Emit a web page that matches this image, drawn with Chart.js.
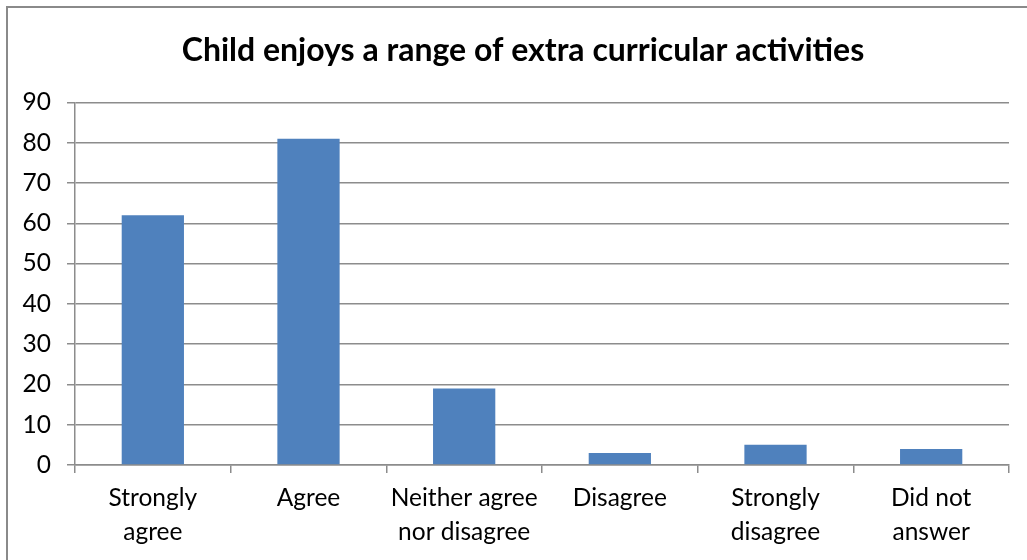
<!DOCTYPE html>
<html>
<head>
<meta charset="utf-8">
<script src="https://cdn.jsdelivr.net/npm/chart.js@4/dist/chart.umd.min.js"></script>
<style>
  html, body { margin: 0; padding: 0; background: #fff; overflow: hidden; }
  #frame { position: absolute; left: 6px; top: 6px; width: 1040px; height: 570px; border: 2px solid #8a8a8a; }
  #wrap { position: absolute; left: 0; top: 0; width: 1027px; height: 560px; }
</style>
</head>
<body>
<div id="frame"></div>
<div id="wrap"><canvas id="c"></canvas></div>
<script>
// 回答の分布（棒グラフ）
const TITLE = 'Child enjoys a range of extra curricular activities';
const categories = [['Strongly', 'agree'], 'Agree', ['Neither agree', 'nor disagree'], 'Disagree', ['Strongly', 'disagree'], ['Did not', 'answer']];
const counts = [62, 81, 19, 3, 5, 4];
const yMax = 90, yStep = 10;

const FONT = 'Lato, "Open Sans", sans-serif';
const GRID = '#8c8c8c';

// タイトルの中心を少し右へ（元の図は外枠基準で中央寄せ）
const shiftTitle = {
  id: 'shiftTitle',
  afterLayout(chart) { if (chart.titleBlock) chart.titleBlock.left = 37; },
};

new Chart(document.getElementById('c'), {
  type: 'bar',
  data: {
    labels: categories,
    datasets: [{ data: counts, backgroundColor: '#4f81bd', barPercentage: 0.4, categoryPercentage: 1 }],
  },
  options: {
    responsive: true, maintainAspectRatio: false, animation: false,
    layout: { padding: { left: 0, right: 18, top: 0, bottom: 0 } },
    plugins: {
      legend: { display: false },
      tooltip: { enabled: false },
      title: { display: true, text: TITLE, color: '#000', font: { family: FONT, size: 32, weight: 'bold' }, padding: { top: 31, bottom: 33 } },
    },
    scales: {
      x: {
        afterFit: s => { s.height = 95; },
        grid: { offset: true, drawOnChartArea: false, drawTicks: true, tickLength: 8, color: GRID, lineWidth: 1.5 },
        border: { color: GRID, width: 1.5 },
        ticks: { color: '#000', font: { family: FONT, size: 24.5, lineHeight: 1.35 }, padding: 9, maxRotation: 0, autoSkip: false },
      },
      y: {
        min: 0, max: yMax,
        afterFit: s => { s.width = 75; },
        grid: { color: GRID, lineWidth: 1.5, tickLength: 8 },
        border: { color: GRID, width: 1.5 },
        ticks: { stepSize: yStep, color: '#000', font: { family: FONT, size: 24.5 }, padding: 16 },
      },
    },
  },
  plugins: [shiftTitle],
});
</script>
</body>
</html>
